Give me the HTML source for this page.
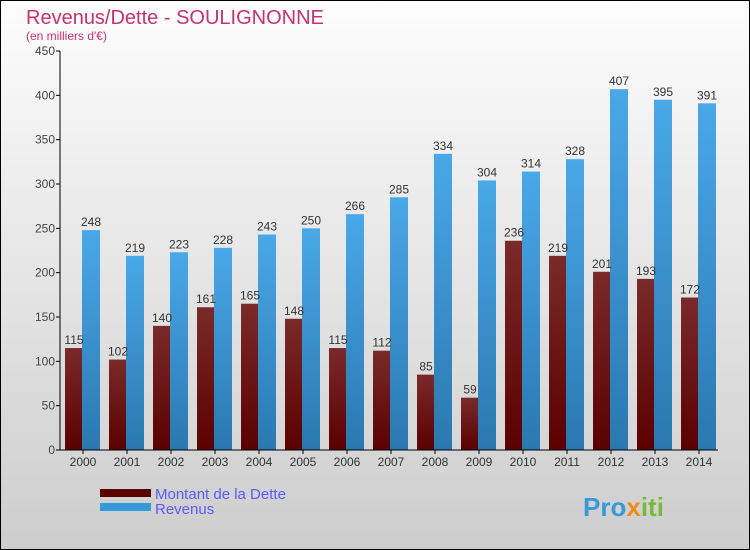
<!DOCTYPE html>
<html><head><meta charset="utf-8"><style>
body{margin:0;}
svg{display:block;font-family:"Liberation Sans","DejaVu Sans",sans-serif;}
</style></head><body>
<svg id="chart" width="750" height="550" viewBox="0 0 750 550">
<defs>
<linearGradient id="bg" x1="0" y1="0" x2="0" y2="1"><stop offset="0" stop-color="#fdfdfd"/><stop offset="1" stop-color="#cdcdcd"/></linearGradient>
<linearGradient id="gd" x1="0" y1="0" x2="0" y2="1"><stop offset="0" stop-color="#7a2a2a"/><stop offset="1" stop-color="#5a0000"/></linearGradient>
<linearGradient id="gr" x1="0" y1="0" x2="0" y2="1"><stop offset="0" stop-color="#4aa8e8"/><stop offset="1" stop-color="#2a78b0"/></linearGradient>
</defs>
<rect x="0.5" y="0.5" width="749" height="549" fill="url(#bg)" stroke="#000"/>
<text x="26" y="24" font-size="20" fill="#c8336a">Revenus/Dette - SOULIGNONNE</text>
<text x="26" y="40" font-size="12" fill="#c8336a">(en milliers d'€)</text>
<g id="plot"></g>
<rect x="100" y="489" width="51" height="8" fill="#5a0000"/>
<text x="155" y="499" font-size="15" fill="#5a5aff">Montant de la Dette</text>
<rect x="100" y="503" width="51" height="8" fill="#3399dd"/>
<text x="155" y="514" font-size="15" fill="#5a5aff">Revenus</text>
<text x="583" y="516" font-size="26" font-weight="bold" fill="#3a9ad9">Pro<tspan fill="#f08a1c">x</tspan><tspan fill="#7bb83a">iti</tspan></text>
</svg>
<script>
const years=["2000","2001","2002","2003","2004","2005","2006","2007","2008","2009","2010","2011","2012","2013","2014"];
const dette=[115,102,140,161,165,148,115,112,85,59,236,219,201,193,172];
const revenus=[248,219,223,228,243,250,266,285,334,304,314,328,407,395,391];
const yTicks=[0,50,100,150,200,250,300,350,400,450];
const NS="http://www.w3.org/2000/svg";
const g=document.getElementById('plot');
const y0=450,yMax=450,pxPer=399/450;
function Y(v){return y0-v*pxPer;}
function X(i){return 65+i*44;}
function mk(t,a){const e=document.createElementNS(NS,t);for(const k in a)e.setAttribute(k,a[k]);g.appendChild(e);return e;}
yTicks.forEach(v=>{
 const t=mk('line',{x1:56,x2:60,y1:Y(v),y2:Y(v),stroke:'#000'});
 
 
 const l=mk('text',{x:55,y:Y(v)+4,'font-size':12,fill:'#444','text-anchor':'end'});
 l.textContent=v;
 
 
});
years.forEach((yr,i)=>{
 const x=X(i);
 const b1=mk('rect',{x:x,y:Y(dette[i]),width:17,height:y0-Y(dette[i]),fill:'url(#gd)'});
 
 
 const b2=mk('rect',{x:x+17,y:Y(revenus[i]),width:18,height:y0-Y(revenus[i]),fill:'url(#gr)'});
 
 
 const v1=mk('text',{x:x+9,y:Y(dette[i])-4,'font-size':12,fill:'#333','text-anchor':'middle'});
 v1.textContent=dette[i];
 
 
 const v2=mk('text',{x:x+26,y:Y(revenus[i])-4,'font-size':12,fill:'#333','text-anchor':'middle'});
 v2.textContent=revenus[i];
 
 
 const xl=mk('text',{x:x+18,y:466,'font-size':12,fill:'#333','text-anchor':'middle'});
 xl.textContent=yr;
 
 
 const xt=mk('line',{x1:x+18,x2:x+18,y1:450,y2:454,stroke:'#000'});
 
 
});
const ya=mk('line',{x1:60,x2:60,y1:51,y2:450,stroke:'#000'});


const xa=mk('line',{x1:60,x2:718,y1:450,y2:450,stroke:'#000'});


</script>
</body></html>
